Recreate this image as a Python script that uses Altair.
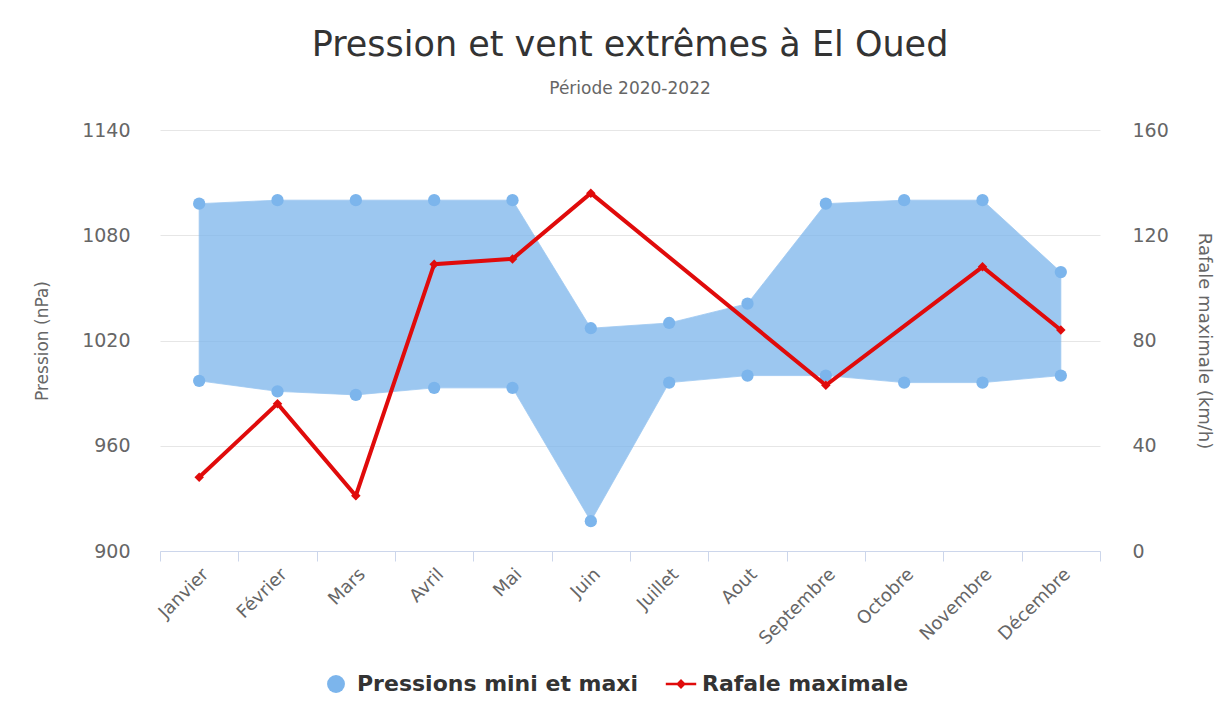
import altair as alt
import pandas as pd

months = ["Janvier", "Février", "Mars", "Avril", "Mai", "Juin", "Juillet",
          "Aout", "Septembre", "Octobre", "Novembre", "Décembre"]
p_max = [1098, 1100, 1100, 1100, 1100, 1027, 1030, 1041, 1098, 1100, 1100, 1059]
p_min = [997, 991, 989, 993, 993, 917, 996, 1000, 1000, 996, 996, 1000]
wind = [28, 56, 21, 109, 111, 136, None, None, 63, None, 108, 84]

S_P = "Pressions mini et maxi"
S_W = "Rafale maximale"

df_p = pd.DataFrame({"mois": months, "pmin": p_min, "pmax": p_max})
df_pts = pd.concat([
    pd.DataFrame({"mois": months, "pression": p_min, "serie": S_P}),
    pd.DataFrame({"mois": months, "pression": p_max, "serie": S_P}),
])
df_w = pd.DataFrame({"mois": months, "rafale": wind, "serie": S_W}).dropna()

FONT = "DejaVu Sans"
BLUE = "#7cb5ec"
RED = "#e00b0b"
LINE_DIAMOND = ("M-1.7,-0.13L1.7,-0.13L1.7,0.13L-1.7,0.13Z "
                "M0,-0.55L0.55,0L0,0.55L-0.55,0Z")

x = alt.X("mois:N", sort=months, bandPosition=0.5,
          scale=alt.Scale(type="band", paddingInner=0, paddingOuter=0),
          axis=alt.Axis(title=None, labelAngle=-45, tickBand="extent",
                        domainColor="#ccd6eb", tickColor="#ccd6eb", tickSize=10,
                        labelFont=FONT, labelFontSize=18, labelColor="#666666",
                        labelPadding=4, grid=False))

color = alt.Color("serie:N",
                  scale=alt.Scale(domain=[S_P, S_W], range=[BLUE, RED]),
                  legend=alt.Legend(title=None, orient="none", direction="horizontal",
                                    legendX=165, legendY=543,
                                    labelFont=FONT, labelFontSize=22,
                                    labelFontWeight="bold", labelColor="#333333",
                                    labelLimit=0,
                                    symbolSize=320, symbolStrokeWidth=0,
                                    columnPadding=26, labelOffset=10))
shape = alt.Shape("serie:N",
                  scale=alt.Scale(domain=[S_P, S_W], range=["circle", LINE_DIAMOND]),
                  legend=alt.Legend(title=None))

y_left = alt.Scale(domain=[900, 1140], nice=False, zero=False)
left_axis = alt.Axis(title="Pression (nPa)", values=[900, 960, 1020, 1080, 1140],
                     format="d",
                     domain=False, ticks=False, grid=True,
                     gridColor="#e6e6e6",
                     labelFont=FONT, labelFontSize=19, labelColor="#666666",
                     labelPadding=30, titleFont=FONT, titleFontSize=17,
                     titleFontWeight="normal", titleColor="#666666", titlePadding=30)

area = alt.Chart(df_p).mark_area(color=BLUE, opacity=0.75, stroke=BLUE,
                                 strokeWidth=1, strokeOpacity=0.8).encode(
    x=x,
    y=alt.Y("pmin:Q", scale=y_left, axis=left_axis),
    y2="pmax:Q",
)
pts = alt.Chart(df_pts).mark_point(filled=True, size=150, opacity=1).encode(
    x=x,
    y=alt.Y("pression:Q", scale=y_left, axis=left_axis),
    color=color,
    shape=shape,
)

y_right = alt.Scale(domain=[0, 160], nice=False)
right_axis = alt.Axis(title="Rafale maximale (km/h)", orient="right",
                      values=[0, 40, 80, 120, 160], domain=False,
                      ticks=False,
                      grid=False, labelFont=FONT, labelFontSize=19,
                      labelColor="#666666", labelPadding=32, titleFont=FONT,
                      titleFontSize=18, titleFontWeight="normal",
                      titleColor="#666666", titlePadding=26)

line = alt.Chart(df_w).mark_line(strokeWidth=4, invalid="filter").encode(
    x=x,
    y=alt.Y("rafale:Q", scale=y_right, axis=right_axis),
    color=color,
)
diam = alt.Chart(df_w).mark_point(filled=True, size=90, opacity=1,
                                  shape="diamond").encode(
    x=x,
    y=alt.Y("rafale:Q", scale=y_right, axis=right_axis),
    color=color,
)

chart = alt.layer(
    alt.layer(area, pts),
    alt.layer(line, diam),
).resolve_scale(y="independent").properties(
    width=940,
    height=421,
    background="white",
    autosize=alt.AutoSizeParams(type="none"),
    padding={"left": 152, "top": 122, "right": 124, "bottom": 166},
    title=alt.TitleParams(
        text="Pression et vent extrêmes à El Oued",
        subtitle="Période 2020-2022",
        font=FONT, fontSize=35, fontWeight="normal", color="#333333",
        subtitleFont=FONT, subtitleFontSize=17, subtitleColor="#666666",
        subtitlePadding=18, offset=24, anchor="middle",
    ),
).configure_view(stroke=None, strokeWidth=0)

chart.save("out.html", embed_options={"renderer": "svg", "actions": False})
